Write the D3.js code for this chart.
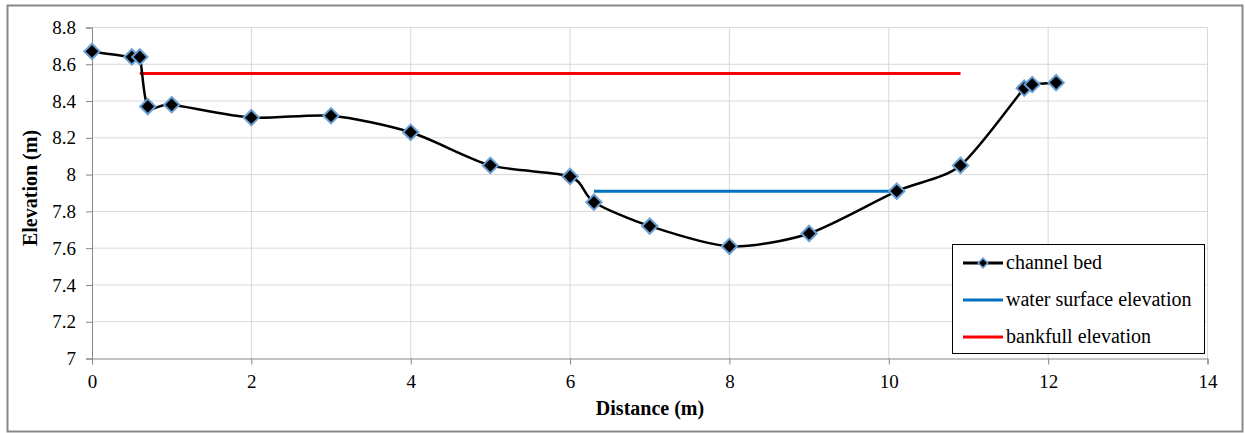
<!DOCTYPE html>
<html>
<head>
<meta charset="utf-8">
<script src="https://cdn.jsdelivr.net/npm/d3@7"></script>
<style>
  body { margin: 0; background: #fff; }
</style>
</head>
<body>
<svg id="chart" width="1245" height="433"></svg>
<script>
// channel bed survey points
var bedDistance = [0, 0.5, 0.6, 0.7, 1, 2, 3, 4, 5, 6, 6.3, 7, 8, 9, 10.1, 10.9, 11.7, 11.8, 12.1]
var bedElevation = [8.67, 8.64, 8.64, 8.37, 8.38, 8.31, 8.32, 8.23, 8.05, 7.99, 7.85, 7.72, 7.61, 7.68, 7.91, 8.05, 8.47, 8.49, 8.50]

// horizontal reference lines
var waterDistance = [6.3, 10.1]
var waterElevation = [7.91, 7.91]
var bankDistance = [0.6, 10.9]
var bankElevation = [8.55, 8.55]

var xTicks = [0, 2, 4, 6, 8, 10, 12, 14]
var yTicks = [7, 7.2, 7.4, 7.6, 7.8, 8, 8.2, 8.4, 8.6, 8.8]

var seriesNames = ["channel bed", "water surface elevation", "bankfull elevation"]
var seriesColors = ["#000000", "#0070c0", "#ff0000"]

var serif = "'Liberation Serif', 'Times New Roman', serif"

var svg = d3.select("#chart")

// outer frame
svg.append("rect")
    .attr("x", 7.5).attr("y", 5.5)
    .attr("width", 1235).attr("height", 426)
    .attr("fill", "#fff")
    .attr("stroke", "#888")
    .attr("stroke-width", 2)

var x = d3.scaleLinear().domain([0, 14]).range([92, 1207.5])
var y = d3.scaleLinear().domain([7, 8.8]).range([358.5, 27.5])

//gridlines
svg.append("g").selectAll("line.h")
    .data(yTicks.slice(1))
    .enter().append("line")
    .attr("x1", x(0)).attr("x2", x(14))
    .attr("y1", function(d) { return y(d) })
    .attr("y2", function(d) { return y(d) })
    .attr("stroke", "#d9d9d9")

svg.append("g").selectAll("line.v")
    .data(xTicks.slice(1))
    .enter().append("line")
    .attr("y1", y(7)).attr("y2", y(8.8))
    .attr("x1", function(d) { return x(d) })
    .attr("x2", function(d) { return x(d) })
    .attr("stroke", "#d9d9d9")

// axes
var xAxis = d3.axisBottom(x).tickValues(xTicks).tickSize(6).tickPadding(10)
    .tickFormat(d3.format("d"))
var yAxis = d3.axisLeft(y).tickValues(yTicks).tickSize(6).tickPadding(10)
    .tickFormat(function(d) { return String(+d.toFixed(1)) })

var gx = svg.append("g").attr("transform", "translate(0," + y(7) + ")").call(xAxis)
var gy = svg.append("g").attr("transform", "translate(" + x(0) + ",0)").call(yAxis)

;[gx, gy].forEach(function(g) {
    g.attr("font-family", serif).attr("font-size", 19)
    g.select(".domain").attr("stroke", "#868686")
    g.selectAll(".tick line").attr("stroke", "#868686")
    g.selectAll("text").attr("fill", "#000")
})

// axis titles
svg.append("text")
    .attr("x", 650).attr("y", 415)
    .attr("text-anchor", "middle")
    .attr("font-family", serif)
    .attr("font-weight", "bold")
    .attr("font-size", 20)
    .text("Distance (m)")

svg.append("text")
    .attr("transform", "translate(37,188) rotate(-90)")
    .attr("text-anchor", "middle")
    .attr("font-family", serif)
    .attr("font-weight", "bold")
    .attr("font-size", 20)
    .text("Elevation (m)")

// reference lines
var straight = d3.line()
    .x(function(d) { return x(d[0]) })
    .y(function(d) { return y(d[1]) })

svg.append("path")
    .datum(d3.zip(bankDistance, bankElevation))
    .attr("d", straight)
    .attr("fill", "none")
    .attr("stroke", seriesColors[2])
    .attr("stroke-width", 3)

svg.append("path")
    .datum(d3.zip(waterDistance, waterElevation))
    .attr("d", straight)
    .attr("fill", "none")
    .attr("stroke", seriesColors[1])
    .attr("stroke-width", 3)

// smoothed channel bed
var bed = d3.zip(bedDistance, bedElevation)
var smooth = d3.line()
    .x(function(d) { return x(d[0]) })
    .y(function(d) { return y(d[1]) })
    .curve(d3.curveCardinal.tension(0.2))

svg.append("path")
    .datum(bed)
    .attr("d", smooth)
    .attr("fill", "none")
    .attr("stroke", "#000")
    .attr("stroke-width", 2.5)

var diamond = d3.symbol().type(d3.symbolDiamond2).size(150)

svg.append("g").selectAll("path")
    .data(bed)
    .enter().append("path")
    .attr("d", diamond)
    .attr("transform", function(d) { return "translate(" + x(d[0]) + "," + y(d[1]) + ")" })
    .attr("fill", "#000")
    .attr("stroke", "#6a9fd4")
    .attr("stroke-width", 2)

// legend
var legend = svg.append("g").attr("transform", "translate(952,244)")
legend.append("rect")
    .attr("x", 0.5).attr("y", 0.5)
    .attr("width", 252).attr("height", 109)
    .attr("fill", "#fff")
    .attr("stroke", "#000")

seriesNames.forEach(function(name, i) {
    var row = legend.append("g").attr("transform", "translate(0," + (19 + i * 37) + ")")
    row.append("line")
        .attr("x1", 11).attr("x2", 51)
        .attr("stroke", seriesColors[i])
        .attr("stroke-width", 3)
    if (i == 0) {
        row.append("path")
            .attr("d", d3.symbol().type(d3.symbolDiamond2).size(60))
            .attr("transform", "translate(31,0)")
            .attr("fill", "#000")
            .attr("stroke", "#6a9fd4")
            .attr("stroke-width", 1.5)
    }
    row.append("text")
        .attr("x", 54).attr("y", 6)
        .attr("font-family", serif)
        .attr("font-size", 20)
        .text(name)
})
</script>
</body>
</html>
